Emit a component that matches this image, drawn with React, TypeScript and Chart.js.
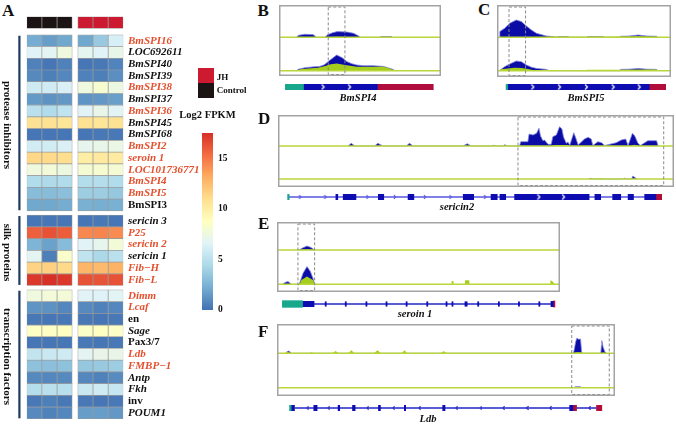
import React, { useEffect, useRef } from 'react';
import { Chart, registerables } from 'chart.js';

Chart.register(...registerables);

const SERIF = '"Liberation Serif", "Times New Roman", Times, serif';

/* ---------------- Panel A : heatmap data (log2 FPKM) ---------------- */
const sampleColumns = ['Control 1', 'Control 2', 'Control 3', 'JH 1', 'JH 2', 'JH 3'];
const groupNames = ['protease inhibitors', 'silk proteins', 'transcription factors'];

const proteaseGenes = ['BmSPI16', 'LOC692611', 'BmSPI40', 'BmSPI39', 'BmSPI38', 'BmSPI37', 'BmSPI36', 'BmSPI45', 'BmSPI68', 'BmSPI2', 'seroin 1', 'LOC101736771', 'BmSPI4', 'BmSPI5', 'BmSPI3'];
const proteaseLog2Fpkm = [
  [2.2, 1.6, 2.0, 2.0, 3.6, 6.2],
  [6.6, 6.8, 7.6, 6.9, 6.6, 7.1],
  [0.6, 0.2, 0.6, 0.2, 0.3, 0.7],
  [0.9, 0.5, 0.8, 0.6, 0.5, 1.1],
  [5.8, 5.9, 6.3, 7.6, 8.1, 7.5],
  [1.5, 1.2, 1.4, 1.3, 1.4, 1.7],
  [5.0, 4.6, 5.2, 6.6, 7.2, 6.7],
  [10.8, 10.8, 10.5, 10.8, 10.6, 10.8],
  [0.2, 0.2, 0.2, 0.2, 0.3, 0.3],
  [6.0, 6.0, 6.3, 7.0, 7.1, 7.3],
  [11.3, 11.2, 11.0, 10.0, 10.3, 10.2],
  [7.6, 7.8, 7.5, 8.0, 8.1, 8.0],
  [4.6, 4.5, 4.6, 4.7, 4.8, 4.6],
  [3.0, 3.0, 3.1, 3.8, 3.8, 3.5],
  [2.0, 2.0, 2.2, 2.4, 2.3, 2.4],
];
const silkGenes = ['sericin 3', 'P25', 'sericin 2', 'sericin 1', 'Fib\u2212H', 'Fib\u2212L'];
const silkLog2Fpkm = [
  [0.2, 0.2, 0.2, 0.2, 0.3, 0.2],
  [15.8, 16.3, 15.9, 14.4, 14.5, 14.3],
  [2.6, 1.8, 2.9, 6.6, 7.0, 7.8],
  [6.8, 0.5, 8.3, 5.2, 4.4, 5.0],
  [11.5, 11.6, 11.2, 12.8, 12.6, 12.9],
  [17.2, 17.5, 17.2, 16.3, 16.2, 16.3],
];
const tfGenes = ['Dimm', 'Lcaf', 'en', 'Sage', 'Pax3/7', 'Ldb', 'FMBP\u22121', 'Antp', 'Fkh', 'inv', 'POUM1'];
const tfLog2Fpkm = [
  [7.6, 7.8, 7.8, 6.6, 6.5, 6.7],
  [1.3, 1.2, 0.8, 0.9, 0.6, 0.8],
  [0.3, 0.2, 0.3, 0.3, 0.2, 0.3],
  [8.6, 8.6, 8.7, 8.5, 8.7, 8.5],
  [0.2, 0.2, 0.2, 0.3, 0.2, 0.3],
  [5.3, 5.6, 5.8, 6.8, 7.2, 7.2],
  [3.2, 3.1, 3.2, 3.5, 3.6, 3.8],
  [0.9, 0.8, 0.9, 0.8, 0.6, 1.0],
  [4.8, 5.0, 4.9, 5.6, 5.8, 5.5],
  [0.3, 0.5, 0.3, 0.3, 0.2, 0.3],
  [0.9, 0.6, 0.8, 1.6, 1.6, 1.4],
];
const redLabelGenes = ['BmSPI16', 'BmSPI38', 'BmSPI36', 'BmSPI2', 'seroin 1', 'LOC101736771', 'BmSPI4', 'BmSPI5', 'P25', 'sericin 2', 'Fib\u2212H', 'Fib\u2212L', 'Dimm', 'Lcaf', 'Ldb', 'FMBP\u22121'];
const uprightGenes = ['BmSPI3', 'en', 'Pax3/7', 'inv'];

const colorbarTicks = [0, 5, 10, 15];
const FPKM_MAX = 17.5;
const rdYlBuStops = ['#4171b2', '#74add1', '#abd9e9', '#e0f3f8', '#ffffbf', '#fee090', '#fdae61', '#f46d43', '#d73027'];

/* ---------------- Panels B-F : coverage [position, depth] ---------------- */
const bmspi4TopBlue = [[10.8, 0], [12, 2], [16, 3], [21, 2.7], [23.2, 0], [28.3, 0], [30, 2.5], [33, 4.5], [36, 5.7], [42, 5.3], [46, 4], [49, 1.5], [50, 0], [62.4, 0], [63, 0.7], [69.7, 0.7], [70, 0]];
const bmspi4TopGreen = [[28, 0], [36, 0.6], [48, 0]];
const bmspi4BotBlue = [[10.8, 0], [12, 1.5], [16, 3], [22, 4], [25.2, 4.3], [28, 6], [31, 10], [35.6, 15.7], [39, 13], [42, 9], [45, 7], [48, 5.7], [52, 5], [58, 5], [64.5, 4.3], [67, 3], [70, 1.5], [71.7, 0]];
const bmspi4BotGreen = [[10.8, 0], [13, 1.5], [18, 2.3], [24, 3], [28, 4.5], [32, 6.5], [35.6, 7.3], [40, 6], [44, 5], [48, 4], [55, 4], [64.5, 4], [68, 2.5], [71.7, 0]];
const bmspi4Highlight = [30.4, 40.7];

const bmspi5TopBlue = [[1.5, 0], [1.6, 5.7], [4.4, 9], [7.3, 14], [11.1, 17.3], [14, 15.7], [16.9, 11.3], [19.8, 7.3], [22.7, 4], [28.4, 1.3], [34.2, 0.3], [36, 0.7], [40.9, 0.7], [41.5, 0], [51.5, 0], [52, 0.7], [61, 0.7], [61.5, 0], [70.6, 0], [71, 1], [76, 1.3], [81.2, 2.3], [86, 1.3], [91.8, 1], [92, 0]];
const bmspi5TopGreen = [[28, 0], [34, 0.5], [42, 0.5], [51.5, 0.5], [61, 0.5], [71, 0.7], [81, 1], [92, 0.5], [92.5, 0]];
const bmspi5BotBlue = [[1.5, 0], [2, 1], [4.4, 4], [7.3, 6.7], [11.1, 9.7], [14, 9], [16.9, 5.7], [19.8, 3.5], [22.7, 2.3], [28.4, 1.3], [30, 0], [70.6, 0], [71, 1.3], [76, 1.5], [81.2, 2.3], [86, 1.5], [91.8, 1.3], [92, 0]];
const bmspi5BotGreen = [[1.5, 0], [2, 1.5], [6, 2.3], [10, 3], [14, 2.7], [17, 2], [20, 1], [22, 0], [51, 0], [51.5, 1], [61, 1], [70, 1], [80, 1.3], [91.8, 1.3], [92, 0]];
const bmspi5Highlight = [6.9, 16.4];

const sericin2TopBlue = [[17.7, 0], [18.5, 2.7], [19.4, 0], [24.4, 0], [25.2, 2.7], [26.5, 0], [32.4, 0], [33.2, 2.7], [34.1, 0], [46.7, 0], [47.8, 2.3], [48.8, 0], [53.9, 0], [54.5, 0.7], [55.2, 0], [56.8, 0], [57.3, 1.3], [57.8, 0], [61, 0], [61.3, 4.3], [63.1, 4.3], [63.4, 12], [64.4, 11], [65.3, 12.7], [65.9, 17.7], [66.3, 10], [66.9, 5.3], [67.3, 6], [68.2, 1.7], [69, 1.7], [69.4, 9.3], [70.3, 11], [71.1, 19.3], [71.7, 17], [72.1, 9], [72.8, 2.7], [73.2, 4], [73.7, 1], [74.7, 13.3], [75.2, 8], [75.8, 1], [77.4, 7], [78.3, 8.7], [79.1, 7], [79.5, 0.5], [80.8, 4.3], [81.7, 3.3], [82.5, 0.5], [85.4, 3.3], [86.7, 6], [87.8, 7], [88.4, 0.5], [89.5, 12.7], [90.1, 10], [90.9, 2.7], [91.5, 0.5], [93.4, 5.3], [95.6, 5.3], [96, 0]];
const sericin2TopGreen = [[69, 0], [70, 1], [73, 1], [74, 0], [89, 0], [90, 1.2], [91, 0]];
const sericin2BotBlue = [[78.5, 0], [79, 0.7], [79.5, 0], [87, 0], [87.5, 0.7], [88, 0], [89.3, 0], [89.6, 3], [90.3, 1], [90.6, 0]];
const sericin2BotGreen = [[80, 0], [80.5, 0.5], [82, 0.5], [82.5, 0]];
const sericin2Highlight = [60.6, 97.4];

const seroin1TopBlue = [[7.8, 0], [9, 2], [10.6, 4], [12, 2.5], [13.3, 0]];
const seroin1TopGreen = [[8, 0], [10.6, 0.7], [13, 0]];
const seroin1BotBlue = [[1.9, 0], [3, 2], [3.9, 2.7], [5.1, 0], [7.8, 0], [8.2, 2.7], [9.2, 11], [10.6, 17.7], [11.8, 12.7], [12.7, 6], [13.3, 0]];
const seroin1BotGreen = [[8, 0], [8.6, 4.3], [10.6, 7.7], [12.7, 4.3], [13.3, 0], [61.6, 0], [61.7, 3.3], [62.3, 3.3], [62.4, 0], [66.4, 0], [66.5, 4], [67.9, 4], [68, 0], [96.5, 0], [96.6, 4], [97.3, 3], [98.2, 0]];
const seroin1Highlight = [7.4, 13.3];

const ldbTopBlue = [[2.6, 0], [2.9, 1.5], [3.5, 2.3], [4.3, 0], [87.7, 0], [87.9, 3], [88.4, 12], [88.7, 15], [89.3, 14], [89.8, 14.3], [90.1, 2], [90.3, 0], [95.8, 0], [96, 8], [96.1, 12.7], [96.5, 6], [97, 1.5], [97.5, 0]];
const ldbTopGreen = [[2.3, 0], [3, 1.3], [4.5, 0], [9.5, 0], [10.2, 1], [10.9, 0], [16.4, 0], [17.3, 2.3], [18.3, 0], [21.1, 0], [22, 3], [22.9, 0], [28.7, 0], [29.7, 3], [30.8, 0], [36.9, 0], [37.7, 3], [38.5, 0], [48.5, 0], [49.3, 2.3], [50.2, 0], [87.7, 0], [88.5, 1], [90, 1], [90.3, 0], [96, 0], [96.5, 0.8], [97.5, 0]];
const ldbBotBlue = [[87.9, 0], [88.2, 1], [89.8, 1], [90, 0]];
const ldbBotGreen = [[37.2, 0], [37.5, 1], [37.9, 0]];
const ldbHighlight = [87.2, 98.3];

/* ---------------- gene models [start, end] ---------------- */
const bmspi4Utr5 = [[0.9, 12.8]];
const bmspi4Cds = [[12.8, 61.4]];
const bmspi4Utr3 = [[61.4, 98.2]];
const bmspi4Strand = [25.7, 43.2];

const bmspi5Utr5 = [[2.5, 3.5]];
const bmspi5Cds = [[3.5, 89.8]];
const bmspi5Utr3 = [[89.8, 100]];
const bmspi5Strand = [18.8, 35.1, 51.5, 67.8, 83.7];

const sericin2Intron = [1.4, 96.6];
const sericin2Utr5 = [[1.2, 1.6]];
const sericin2Cds = [[13.7, 14.2], [15.6, 18.9], [24.7, 26.1], [32.4, 33.9], [46.7, 49.4], [53.9, 55.5], [56.2, 57.7], [60, 79.3], [80.8, 82.3], [85.4, 87.5], [89.4, 90.8], [93.7, 96.6]];
const sericin2Utr3 = [[96.6, 98.1]];
const sericin2Strand = [66.3, 72.7];
const sericin2IntronMarks = [4.5, 11, 21.9, 29, 36.8, 43.4, 52.4];

const seroin1Intron = [13.1, 97.6];
const seroin1Utr5 = [[1.9, 9]];
const seroin1Cds = [[9, 13.1], [96.8, 97.6]];
const seroin1SmallExons = [[17, 17.4], [24.1, 24.5], [31.4, 31.8], [38.5, 38.9], [45.6, 46], [52.9, 53.3], [59.7, 60.1], [61.8, 62.2], [66.4, 67.2], [70.9, 71.3], [78.2, 78.6], [85.3, 85.7], [92.5, 92.9]];
const seroin1Utr3 = [[97.6, 98.2]];

const ldbIntron = [3.8, 97.5];
const ldbUtr5 = [[2.3, 2.8]];
const ldbCds = [[2.8, 3.8], [9.7, 10.7], [17.1, 17.6], [21.5, 22.3], [29.4, 30], [37.3, 37.7], [49, 49.7], [87.7, 88.7]];
const ldbUtr3 = [[88.7, 89.8], [95.9, 97.5]];
const ldbIntronMarks = [7.7, 14.1, 26, 33.9, 41.8, 53.1, 60.5, 67.4, 74.6, 81.7, 93.6];

/* ---------------- styles ---------------- */
const CONTROL_COLOR = '#1c1414';
const JH_COLOR = '#cc1a30';
const CELL_BORDER = '#9b9b9b';
const RED_LABEL = '#e5502e';
const COV_BLUE = '#0b0ca6';
const COV_EDGE = '#8284e2';
const COV_GREEN = '#a5cd1c';
const BASE_LINE = '#b9d63a';
const BOX_GREY = '#a3a3a3';
const EXON_BLUE = '#0c0cb0';
const UTR_TEAL = '#17a88b';
const UTR_RED = '#b10d3c';

const HEADER_ROW = 0;
const FIRST_ROW = 1.55;
const GROUP_GAP = 0.364;
const COL_GAP = 0.37;

type Pair = number[];

function hexRgb(h: string) {
  const n = parseInt(h.slice(1), 16);
  return [(n >> 16) & 255, (n >> 8) & 255, n & 255];
}
function fpkmColor(v: number) {
  const n = rdYlBuStops.length - 1;
  const t = Math.max(0, Math.min(1, v / FPKM_MAX)) * n;
  const i = Math.min(n - 1, Math.floor(t));
  const f = t - i;
  const a = hexRgb(rdYlBuStops[i]);
  const b = hexRgb(rdYlBuStops[i + 1]);
  const c = a.map((x, k) => Math.round(x + (b[k] - x) * f));
  return `rgb(${c[0]},${c[1]},${c[2]})`;
}

const baseOptions = () => ({
  animation: false,
  responsive: false,
  devicePixelRatio: 1,
  events: [],
  plugins: { legend: { display: false }, tooltip: { enabled: false }, title: { display: false } },
});

function ChartBox({ left, top, width, height, build }: { left: number; top: number; width: number; height: number; build: () => any }) {
  const ref = useRef<HTMLCanvasElement>(null);
  useEffect(() => {
    const chart = new Chart(ref.current as HTMLCanvasElement, build());
    return () => chart.destroy();
  }, []);
  return <canvas ref={ref} width={width} height={height} style={{ position: 'absolute', left, top, width, height }} />;
}

function Txt({ x, y, size, bold = true, italic = false, color = '#111', align = 'left', children }: any) {
  return (
    <div
      style={{
        position: 'absolute', left: x, top: y - 0.3375 * size, height: 0, lineHeight: 0,
        fontFamily: SERIF, fontSize: size, fontWeight: bold ? 'bold' : 'normal', fontStyle: italic ? 'italic' : 'normal',
        color, whiteSpace: 'nowrap', transform: align === 'center' ? 'translateX(-50%)' : undefined,
      }}
    >
      {children}
    </div>
  );
}

/* ---------------- heatmap ---------------- */
function buildHeatmap() {
  const groups = [
    { name: groupNames[0], genes: proteaseGenes, values: proteaseLog2Fpkm },
    { name: groupNames[1], genes: silkGenes, values: silkLog2Fpkm },
    { name: groupNames[2], genes: tfGenes, values: tfLog2Fpkm },
  ];
  const rows: { name: string; values: number[]; pos: number }[] = [];
  const spans: { name: string; first: number; last: number }[] = [];
  let k = 0;
  groups.forEach((g, gi) => {
    const first = FIRST_ROW + k + gi * GROUP_GAP;
    g.genes.forEach((name, i) => {
      rows.push({ name, values: g.values[i], pos: FIRST_ROW + k + gi * GROUP_GAP });
      k++;
    });
    spans.push({ name: g.name, first, last: rows[rows.length - 1].pos });
  });
  const lastPos = rows[rows.length - 1].pos;
  const red = new Set(redLabelGenes);
  const upright = new Set(uprightGenes);
  const colStart = (j: number) => (j < 3 ? j : j + COL_GAP);

  const datasets = sampleColumns.map((label, j) => ({
    label,
    data: [
      { x: [colStart(j), colStart(j) + 1], y: HEADER_ROW, v: null, j },
      ...rows.map((r) => ({ x: [colStart(j), colStart(j) + 1], y: r.pos, v: r.values[j], j })),
    ],
    backgroundColor: (ctx: any) => {
      const r = ctx.raw;
      if (!r) return '#ffffff';
      if (r.v == null) return r.j < 3 ? CONTROL_COLOR : JH_COLOR;
      return fpkmColor(r.v);
    },
    borderColor: CELL_BORDER,
    borderWidth: 0.7,
    borderSkipped: false,
    grouped: false,
    barPercentage: 1,
    categoryPercentage: 1,
  }));

  const groupPlugin = {
    id: 'groupBars',
    afterDraw(chart: any) {
      const y = chart.scales.y;
      const c = chart.ctx;
      spans.forEach((s) => {
        const y1 = y.getPixelForValue(s.first - 0.42);
        const y2 = y.getPixelForValue(s.last + 0.45);
        c.save();
        c.fillStyle = '#1f3b63';
        c.fillRect(18.3, y1, 2.2, y2 - y1);
        c.translate(6.5, (y1 + y2) / 2 + 2);
        c.rotate(Math.PI / 2);
        c.font = `bold 11px ${SERIF}`;
        c.fillStyle = '#111';
        c.textAlign = 'center';
        c.textBaseline = 'middle';
        c.fillText(s.name, 0, 0);
        c.restore();
      });
    },
  };

  return {
    type: 'bar',
    data: { datasets },
    plugins: [groupPlugin],
    options: {
      ...baseOptions(),
      indexAxis: 'y',
      layout: { padding: { left: 26.7, top: 16.6, right: 0, bottom: 21.1 } },
      scales: {
        x: { type: 'linear', min: 0, max: 6 + COL_GAP, display: false, offset: false },
        y: {
          type: 'linear', position: 'right', reverse: true, offset: false,
          min: HEADER_ROW - 0.5, max: lastPos + 0.5,
          grid: { display: false, drawTicks: false, tickLength: 0 },
          border: { display: false },
          afterBuildTicks: (s: any) => { s.ticks = rows.map((r) => ({ value: r.pos })); },
          afterFit: (s: any) => { s.width = 81.7; },
          ticks: {
            autoSkip: false,
            padding: 4.7,
            callback: (_v: any, i: number) => (rows[i] ? rows[i].name : ''),
            color: (c: any) => (rows[c.index] && red.has(rows[c.index].name) ? RED_LABEL : '#111'),
            font: (c: any) => ({
              family: SERIF, size: 11, weight: 'bold',
              style: rows[c.index] && upright.has(rows[c.index].name) ? 'normal' : 'italic',
            }),
          },
        },
      },
    },
  };
}

/* ---------------- colour bar ---------------- */
function buildColorbar() {
  return {
    type: 'bar',
    data: {
      labels: ['Log2 FPKM'],
      datasets: [{
        data: [[0, FPKM_MAX]],
        barPercentage: 1,
        categoryPercentage: 1,
        borderWidth: 0,
        backgroundColor: (ctx: any) => {
          const ch = ctx.chart;
          const ys = ch.scales && ch.scales.y;
          if (!ch.chartArea || !ys) return rdYlBuStops[0];
          const g = ch.ctx.createLinearGradient(0, ys.getPixelForValue(0), 0, ys.getPixelForValue(FPKM_MAX));
          rdYlBuStops.forEach((s, i) => g.addColorStop(i / (rdYlBuStops.length - 1), s));
          return g;
        },
      }],
    },
    options: {
      ...baseOptions(),
      layout: { padding: { left: 22, top: 33, right: 0, bottom: 20 } },
      scales: {
        x: { display: false },
        y: {
          type: 'linear', position: 'right', min: 0, max: FPKM_MAX,
          grid: { display: false, drawTicks: false, tickLength: 0 },
          border: { display: false },
          afterBuildTicks: (s: any) => { s.ticks = colorbarTicks.map((v) => ({ value: v })); },
          afterFit: (s: any) => { s.width = 27; },
          ticks: { padding: 5, color: '#111', font: { family: SERIF, size: 9.5, weight: 'bold' } },
        },
      },
    },
  };
}

/* ---------------- coverage tracks ---------------- */
function buildTrack(p: any) {
  const pts = (arr: Pair[], off: number) => arr.map(([x, v]) => ({ x, y: v + off }));
  const area = (arr: Pair[], off: number, fillColor: string, edge: string | null, order: number) => ({
    type: 'line',
    data: pts(arr, off),
    borderColor: edge || 'rgba(0,0,0,0)',
    borderWidth: edge ? 0.8 : 0,
    backgroundColor: fillColor,
    fill: { value: off },
    pointRadius: 0,
    tension: 0,
    order,
  });
  const baseline = (off: number) => ({
    type: 'line',
    data: [{ x: 0, y: off }, { x: 100, y: off }],
    borderColor: BASE_LINE,
    borderWidth: 1.6,
    pointRadius: 0,
    fill: false,
    order: 0,
  });
  const framePlugin = {
    id: 'frame',
    afterDraw(chart: any) {
      const { ctx, chartArea: a, scales } = chart;
      ctx.save();
      const x1 = scales.x.getPixelForValue(p.highlight[0]);
      const x2 = scales.x.getPixelForValue(p.highlight[1]);
      ctx.setLineDash([3, 2]);
      ctx.strokeStyle = '#8a8a8a';
      ctx.lineWidth = 1;
      ctx.strokeRect(x1, a.top + 2, x2 - x1, a.bottom - a.top - 3.5);
      ctx.setLineDash([]);
      ctx.strokeStyle = BOX_GREY;
      ctx.lineWidth = 1.5;
      ctx.strokeRect(a.left + 0.75, a.top + 0.75, a.right - a.left - 1.5, a.bottom - a.top - 1.5);
      ctx.restore();
    },
  };
  return {
    type: 'line',
    data: {
      datasets: [
        baseline(0),
        baseline(p.offset),
        area(p.topGreen, p.offset, COV_GREEN, null, 1),
        area(p.botGreen, 0, COV_GREEN, null, 1),
        area(p.topBlue, p.offset, COV_BLUE, COV_EDGE, 2),
        area(p.botBlue, 0, COV_BLUE, COV_EDGE, 2),
      ],
    },
    plugins: [framePlugin],
    options: {
      ...baseOptions(),
      layout: { padding: 0 },
      scales: {
        x: { type: 'linear', min: 0, max: 100, display: false },
        y: { type: 'linear', min: p.yMin, max: p.yMax, display: false },
      },
    },
  };
}

function makeChevron(color: string, w: number, h: number, dir: number) {
  const c = document.createElement('canvas');
  c.width = w + 2;
  c.height = h + 2;
  const g = c.getContext('2d') as CanvasRenderingContext2D;
  g.strokeStyle = color;
  g.lineWidth = 1.2;
  g.beginPath();
  if (dir > 0) {
    g.moveTo(1, 1); g.lineTo(w, h / 2 + 1); g.lineTo(1, h + 1);
  } else {
    g.moveTo(w + 1, 1); g.lineTo(2, h / 2 + 1); g.lineTo(w + 1, h + 1);
  }
  g.stroke();
  return c;
}

function buildGene(g: any) {
  const bars = (ranges: Pair[], color: string, thick: number) => ({
    type: 'bar',
    indexAxis: 'y',
    data: ranges.map(([s, e]) => ({ x: [s, e], y: 0 })),
    backgroundColor: color,
    borderWidth: 0,
    barThickness: thick,
    grouped: false,
    order: 1,
  });
  const datasets: any[] = [];
  if (g.intron) {
    datasets.push({
      type: 'line',
      data: [{ x: g.intron[0], y: 0 }, { x: g.intron[1], y: 0 }],
      borderColor: g.intronColor,
      borderWidth: 1.5,
      pointRadius: 0,
      fill: false,
      order: 3,
    });
  }
  datasets.push(bars(g.utr5, UTR_TEAL, g.utr5Thick));
  datasets.push(bars(g.cds, EXON_BLUE, g.cdsThick));
  if (g.small) datasets.push(bars(g.small, EXON_BLUE, g.smallThick));
  datasets.push(bars(g.utr3, UTR_RED, g.utr3Thick));
  if (g.strand && g.strand.length) {
    datasets.push({
      type: 'scatter',
      data: g.strand.map((x: number) => ({ x, y: 0 })),
      pointStyle: makeChevron('#ffffff', 3.5, 5, 1),
      pointRadius: 3,
      order: 0,
    });
  }
  if (g.marks && g.marks.length) {
    datasets.push({
      type: 'scatter',
      data: g.marks.map((x: number) => ({ x, y: 0 })),
      pointStyle: makeChevron(g.intronColor, 2.5, 4, g.markDir),
      pointRadius: 3,
      order: 0,
    });
  }
  return {
    type: 'bar',
    data: { datasets },
    options: {
      ...baseOptions(),
      layout: { padding: 0 },
      scales: {
        x: { type: 'linear', min: 0, max: 100, display: false, offset: false },
        y: { type: 'linear', min: -1, max: 1, display: false, offset: false },
      },
    },
  };
}

const panels = [
  {
    letter: 'B', letterX: 257.5, letterBase: 16.7,
    box: { left: 279, top: 5, width: 162, height: 71 },
    yMin: -5.3, yMax: 65.7, offset: 33.4,
    topBlue: bmspi4TopBlue, topGreen: bmspi4TopGreen, botBlue: bmspi4BotBlue, botGreen: bmspi4BotGreen, highlight: bmspi4Highlight,
    gene: { intron: null, utr5: bmspi4Utr5, cds: bmspi4Cds, utr3: bmspi4Utr3, strand: bmspi4Strand, utr5Thick: 8, cdsThick: 8, utr3Thick: 8 },
    geneTop: 79, name: 'BmSPI4', nameX: 358, nameBase: 101.5,
  },
  {
    letter: 'C', letterX: 478, letterBase: 15.8,
    box: { left: 497, top: 5, width: 174, height: 72 },
    yMin: -6.3, yMax: 65.7, offset: 33.4,
    topBlue: bmspi5TopBlue, topGreen: bmspi5TopGreen, botBlue: bmspi5BotBlue, botGreen: bmspi5BotGreen, highlight: bmspi5Highlight,
    gene: { intron: null, utr5: bmspi5Utr5, cds: bmspi5Cds, utr3: bmspi5Utr3, strand: bmspi5Strand, utr5Thick: 7.5, cdsThick: 7.5, utr3Thick: 7.5 },
    geneTop: 79, name: 'BmSPI5', nameX: 586, nameBase: 101.5,
  },
  {
    letter: 'D', letterX: 258, letterBase: 125,
    box: { left: 278, top: 115, width: 396, height: 72 },
    yMin: -8, yMax: 64, offset: 33,
    topBlue: sericin2TopBlue, topGreen: sericin2TopGreen, botBlue: sericin2BotBlue, botGreen: sericin2BotGreen, highlight: sericin2Highlight,
    gene: { intron: sericin2Intron, intronColor: '#5656de', utr5: sericin2Utr5, cds: sericin2Cds, utr3: sericin2Utr3, strand: sericin2Strand, marks: sericin2IntronMarks, markDir: 1, utr5Thick: 7, cdsThick: 6.5, utr3Thick: 7 },
    geneTop: 189, name: 'sericin2', nameX: 457, nameBase: 211,
  },
  {
    letter: 'E', letterX: 258, letterBase: 230,
    box: { left: 277, top: 222, width: 283, height: 70 },
    yMin: -7.7, yMax: 62.3, offset: 34.3,
    topBlue: seroin1TopBlue, topGreen: seroin1TopGreen, botBlue: seroin1BotBlue, botGreen: seroin1BotGreen, highlight: seroin1Highlight,
    gene: { intron: seroin1Intron, intronColor: '#2424c8', utr5: seroin1Utr5, cds: seroin1Cds, small: seroin1SmallExons, utr3: seroin1Utr3, utr5Thick: 6.7, cdsThick: 5.3, smallThick: 4.5, utr3Thick: 6 },
    geneTop: 296, name: 'seroin 1', nameX: 415, nameBase: 317.5,
  },
  {
    letter: 'F', letterX: 258, letterBase: 338,
    box: { left: 277, top: 324, width: 338, height: 72 },
    yMin: -8.3, yMax: 63.7, offset: 34.4,
    topBlue: ldbTopBlue, topGreen: ldbTopGreen, botBlue: ldbBotBlue, botGreen: ldbBotGreen, highlight: ldbHighlight,
    gene: { intron: ldbIntron, intronColor: '#2424c8', utr5: ldbUtr5, cds: ldbCds, utr3: ldbUtr3, marks: ldbIntronMarks, markDir: -1, utr5Thick: 6, cdsThick: 6, utr3Thick: 7.5 },
    geneTop: 400, name: 'Ldb', nameX: 428, nameBase: 423,
  },
];

export default function App() {
  return (
    <div style={{ position: 'fixed', left: 0, top: 0, width: 676, height: 424, overflow: 'hidden', background: '#ffffff' }}>
      <Txt x={2} y={16.5} size={17}>A</Txt>
      <ChartBox left={0} top={0} width={205} height={440} build={buildHeatmap} />

      <div style={{ position: 'absolute', left: 198, top: 68, width: 16, height: 15, background: JH_COLOR }} />
      <div style={{ position: 'absolute', left: 198, top: 83, width: 16, height: 15, background: CONTROL_COLOR }} />
      <Txt x={216.7} y={80} size={9}>JH</Txt>
      <Txt x={216.7} y={93.3} size={9}>Control</Txt>

      <Txt x={207.5} y={119} size={10.5} align="center">Log2 FPKM</Txt>
      <ChartBox left={180} top={100} width={60} height={230} build={buildColorbar} />

      {panels.map((p) => (
        <React.Fragment key={p.letter}>
          <Txt x={p.letterX} y={p.letterBase} size={17}>{p.letter}</Txt>
          <ChartBox left={p.box.left} top={p.box.top} width={p.box.width} height={p.box.height} build={() => buildTrack(p)} />
          <ChartBox left={p.box.left} top={p.geneTop} width={p.box.width} height={16} build={() => buildGene(p.gene)} />
          <Txt x={p.nameX} y={p.nameBase} size={10.5} italic align="center">{p.name}</Txt>
        </React.Fragment>
      ))}
    </div>
  );
}
